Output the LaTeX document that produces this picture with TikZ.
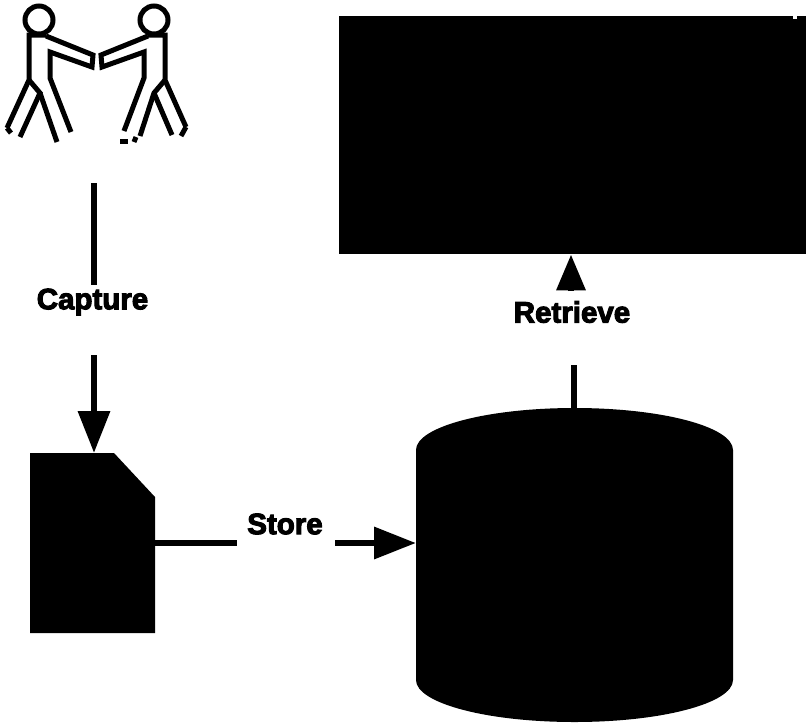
\documentclass[tikz,border=0pt]{standalone}
\usepackage{fontspec}
\setmainfont[FakeBold=3.5]{Liberation Sans Bold}
\usetikzlibrary{arrows.meta}
\tikzset{
  figure/.style={line width=5pt,line join=miter,line cap=butt},
  solid shape/.style={fill=black,draw=none},
  anchor box/.style={draw=none,inner sep=0pt,outer sep=0pt,minimum width=#1},
  caption/.style={font=\fontsize{29.5}{32}\selectfont,inner sep=0pt,text=black},
  link/.style={line width=6.5pt},
  flow/.style={line width=6.5pt,-{Triangle[length=42pt,width=31pt]}},
}
\begin{document}
\begin{tikzpicture}[x=1pt,y=-1pt]
\useasboundingbox (0,0) rectangle (809,724);
% two figures shaking hands
\begin{scope}[figure]
  \draw (39,20) circle (14);
  \draw (154,20) circle (14);
  \draw (46,35) -- (29,35) -- (29,80) -- (7,128);
  \draw (46,36) -- (93,55) -- (92,67) -- (50,52) -- (50,78) -- (71,132);
  \draw (29,80) -- (40,93) -- (20,137);
  \draw (40,93) -- (57,142);
  \draw (148,35) -- (165,35) -- (165,80) -- (186,127);
  \draw (148,36) -- (101,55) -- (102,67) -- (144,52) -- (144,78) -- (124,131);
  \draw (165,80) -- (154,93) -- (140,136);
  \draw (154,93) -- (172,135);
  \draw (7,128) -- (11,133);
  \draw (186,127) -- (181,136);
  \draw (120,141.5) -- (128,141.5);
  \draw (134,142) -- (136,137);
\end{scope}
% display
\node[solid shape,rectangle,inner sep=0pt,minimum width=467pt,minimum height=238pt,anchor=north west] (screen) at (339,16) {};
\fill[white] (793,16) rectangle (797,19);
% document with a cut corner
\fill (30,453) -- (114,453) -- (155,497) -- (155,633) -- (30,633) -- cycle;
\node[anchor box=125pt,minimum height=180pt,anchor=north west] (doc) at (30,453) {};
% database cylinder
\fill (416,450) arc[start angle=180,end angle=360,x radius=158.5,y radius=42]
  -- (733,680) arc[start angle=0,end angle=180,x radius=158.5,y radius=42] -- cycle;
\node[anchor box=317pt,minimum height=314pt,anchor=north west] (db) at (416,408) {};
% labels
\node[caption] (capture) at (92.5,302) {Capture};
\node[caption] (store) at (285,524) {Store};
\node[caption] (retrieve) at (572,312) {Retrieve};
% free ends of the broken connectors
\coordinate (people) at (94,183);
\coordinate (capend) at (94,285);
\coordinate (capstart) at (94,355);
\coordinate (stopen) at (237,543);
\coordinate (ststart) at (335,543);
\coordinate (retend) at (574,365);
\coordinate (retstart) at (571,291);
% connectors
\draw[link] (people) -- (capend);
\draw[flow] (capstart) -- (capstart |- doc.north);
\draw[link] (doc.east |- stopen) -- (stopen);
\draw[flow] (ststart) -- (db.west |- ststart);
\draw[link] (retend |- db.north) -- (retend);
\draw[flow,-{Triangle[length=36pt,width=28pt]}] (retstart) -- (retstart |- screen.south);
\end{tikzpicture}
\end{document}
